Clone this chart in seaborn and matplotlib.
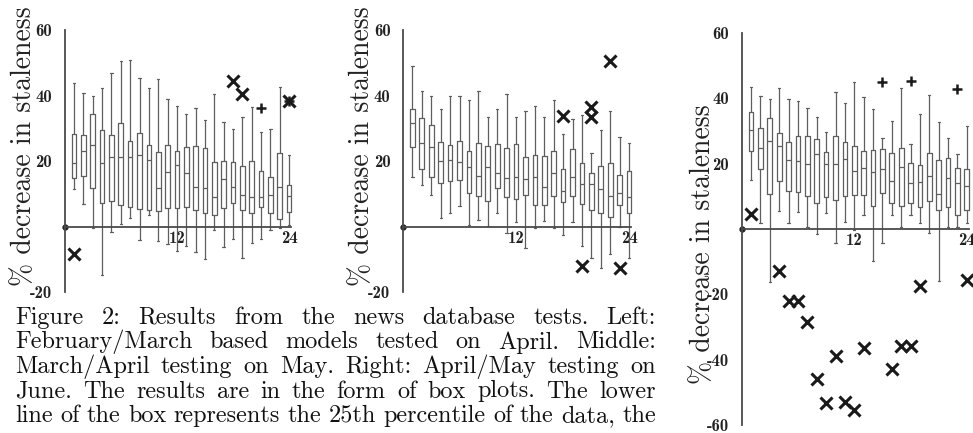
import matplotlib
matplotlib.use('Agg')
import matplotlib.pyplot as plt
import seaborn as sns
import numpy as np
import pandas as pd

sns.set_style('white')
plt.rcParams['font.family'] = ['cmr10', 'DejaVu Serif']
plt.rcParams['axes.unicode_minus'] = False

W, H = 973, 433
positions = list(range(1, 25))

# Left: February/March models tested on April
left_hi = [43.7, 40.9, 39.9, 42.4, 47.0, 50.6, 50.7, 45.3, 42.2, 45.0, 39.1, 36.8,
           34.4, 36.3, 32.6, 40.5, 31.8, 29.8, 33.6, 36.5, 28.8, 29.9, 42.5, 21.9]
left_q3 = [28.3, 28.1, 34.5, 29.5, 28.1, 31.7, 26.0, 28.6, 25.0, 22.7, 25.0, 23.2,
           24.2, 24.5, 24.0, 19.8, 20.1, 19.8, 18.6, 20.0, 17.1, 15.3, 22.4, 12.8]
left_med = [19.3, 23.1, 25.0, 19.5, 21.3, 21.3, 21.3, 22.0, 20.3, 11.7, 16.8, 18.8,
            16.5, 12.2, 11.9, 9.1, 14.6, 12.1, 9.7, 9.1, 9.1, 9.6, 12.1, 9.5]
left_q1 = [14.9, 15.5, 11.8, 7.3, 7.7, 6.7, 6.0, 5.5, 5.2, 4.9, 5.8, 5.8,
           6.0, 5.2, 4.3, 3.6, 5.8, 7.2, 5.1, 4.3, 5.9, 4.3, 2.3, 4.5]
left_lo = [11.4, 6.8, -0.5, -14.8, -1.6, 0.8, 2.8, -4.1, 3.5, -4.3, -5.3, -7.4,
           -5.9, -7.6, -9.9, -1.0, -6.3, -3.8, -9.4, -5.1, -3.8, -1.0, -0.5, 0.5]
left_far_x = [1, 18, 19, 24]
left_far_y = [-8.4, 44.5, 40.5, 38.4]
left_near_x = [21, 24]
left_near_y = [36.3, 38.4]

# Middle: March/April testing on May
mid_hi = [49.0, 41.4, 39.9, 35.9, 39.9, 39.9, 38.5, 41.5, 33.6, 35.9, 40.6, 33.4,
          35.4, 36.8, 33.6, 38.7, 28.2, 33.0, 34.2, 22.6, 29.5, 35.4, 27.3, 25.6]
mid_q3 = [36.0, 33.3, 30.9, 25.8, 25.0, 26.2, 23.1, 25.5, 24.6, 25.3, 24.1, 25.1,
          21.2, 22.0, 21.5, 23.0, 17.6, 23.7, 19.3, 16.3, 18.6, 19.5, 15.9, 17.0]
mid_med = [31.5, 25.4, 24.2, 20.0, 20.5, 19.8, 18.3, 15.6, 18.3, 16.4, 15.0, 15.3,
           14.5, 15.3, 12.2, 16.3, 11.0, 15.1, 13.0, 13.0, 11.4, 9.5, 10.2, 9.2]
mid_q1 = [24.4, 17.5, 15.3, 13.2, 13.9, 14.4, 10.3, 9.3, 7.8, 11.7, 9.1, 8.6,
          9.7, 6.5, 6.6, 9.5, 7.4, 9.5, 7.0, 5.1, 4.1, 3.1, 6.5, 4.3]
mid_lo = [15.1, 12.6, 9.7, 2.6, 4.3, 6.3, 0.5, 2.2, 0.2, 4.1, -2.0, 1.5,
          -6.4, -0.5, 1.7, -0.5, -2.5, 1.5, -5.9, -9.5, -12.7, -8.3, 0.0, -9.4]
mid_far_x = [17, 20, 20, 22, 19, 23]
mid_far_y = [33.9, 36.4, 33.6, 50.4, -12.0, -12.7]
mid_near_x = []
mid_near_y = []

# Right: April/May testing on June
right_hi = [43.3, 40.8, 39.6, 43.1, 39.6, 39.2, 36.9, 34.3, 29.8, 41.9, 38.6, 45.0,
            40.2, 36.6, 27.7, 33.1, 43.2, 25.9, 35.3, 40.9, 32.6, 27.9, 22.9, 31.5]
right_q3 = [35.7, 30.9, 33.9, 29.2, 26.6, 28.4, 28.4, 27.4, 23.5, 28.4, 26.5, 25.5,
            23.7, 24.1, 24.6, 23.3, 24.9, 20.3, 19.7, 23.3, 21.1, 21.8, 18.7, 18.2]
right_med = [30.4, 24.7, 26.9, 25.4, 21.1, 20.7, 19.9, 23.0, 19.9, 19.9, 21.3, 17.8,
             18.5, 17.5, 18.2, 14.8, 19.0, 14.0, 14.5, 16.3, 10.7, 15.6, 14.2, 13.1]
right_q1 = [23.7, 18.3, 10.7, 14.8, 11.7, 11.3, 10.2, 8.0, 9.9, 8.8, 10.2, 10.4,
            10.5, 7.0, 10.9, 7.8, 7.0, 7.8, 6.6, 8.6, 5.8, 6.6, 4.3, 5.8]
right_lo = [15.0, 1.9, -16.1, 5.5, 1.9, 5.1, 0.7, -1.5, 5.0, -4.3, 2.2, -0.3,
            4.3, -9.7, -4.3, 4.3, 0.5, 4.3, 1.7, -1.2, -16.0, 0.5, 0.5, 1.7]
right_far_x = [1, 4, 5, 6, 7, 8, 9, 10, 11, 12, 13, 16, 17, 18, 19, 24]
right_far_y = [4.6, -12.7, -21.9, -21.9, -28.3, -46.0, -53.1, -38.8, -52.8, -55.4,
               -36.3, -42.9, -35.8, -35.8, -17.4, -15.6]
right_near_x = [15, 18, 23]
right_near_y = [45.0, 45.3, 42.8]

caption = [
    "Figure 2:  Results from the news database tests.  Left:",
    "February/March based models tested on April.  Middle:",
    "March/April testing on May.  Right: April/May testing on",
    "June.  The results are in the form of box plots.  The lower",
    "line of the box represents the 25th percentile of the data, the",
]

fig = plt.figure(figsize=(W / 100, H / 100), dpi=100)
fig.patch.set_facecolor('white')

LINE = '#5e5e5e'


def panel(x0, unit, ytop, ybot, ylim, yticks, stats, far, near):
    ax = fig.add_axes([x0 / W, (H - ybot) / H, 24.6 * unit / W, (ybot - ytop) / H])
    lo, q1, med, q3, hi = stats
    df = pd.DataFrame({
        'pos': np.repeat(positions, 5),
        'val': np.column_stack([lo, q1, med, q3, hi]).ravel(),
    })
    sns.boxplot(data=df, x='pos', y='val', orient='x', native_scale=True,
                whis=(0, 100), width=0.5, fill=False, color=LINE, linecolor=LINE,
                linewidth=0.9, fliersize=0, ax=ax)
    ax.plot(far[0], far[1], 'x', ms=8, mew=2.2, color='#1a1a1a', clip_on=False)
    if near[0]:
        ax.plot(near[0], near[1], '+', ms=7, mew=1.8, color='#1a1a1a', clip_on=False)
    ax.plot([0], [0], 'o', ms=3.5, color='#222222', clip_on=False)

    ax.set_xlim(0, 24.6)
    ax.set_ylim(*ylim)
    ax.set_xlabel('')
    ax.set_ylabel('')
    for s in ['top', 'right']:
        ax.spines[s].set_visible(False)
    ax.spines['bottom'].set_position(('data', 0))
    ax.spines['bottom'].set_bounds(0, 24.2)
    ax.spines['left'].set_bounds(*ylim)
    for s in ['bottom', 'left']:
        ax.spines[s].set_color('#4a4a4a')
        ax.spines[s].set_linewidth(1.3)
    ax.set_xticks([12, 24])
    ax.set_xticklabels(['12', '24'])
    ax.set_yticks(yticks)
    ax.set_yticklabels([str(t) for t in yticks])
    ax.tick_params(axis='x', length=0, pad=3, labelsize=12, colors='#222222')
    ax.tick_params(axis='y', direction='in', length=2.5, width=1, pad=9,
                   labelsize=12, colors='#222222')
    for t in ax.get_yticklabels() + ax.get_xticklabels():
        t.set_family(['cmb10', 'DejaVu Serif'])
    ax.patch.set_alpha(0)
    return ax


panel(64.7, 9.35, 30, 292.3, (-20, 60), [60, 40, 20, -20],
      (left_lo, left_q1, left_med, left_q3, left_hi),
      (left_far_x, left_far_y), (left_near_x, left_near_y))
panel(403, 9.42, 30, 292.3, (-20, 60), [60, 40, 20, -20],
      (mid_lo, mid_q1, mid_med, mid_q3, mid_hi),
      (mid_far_x, mid_far_y), (mid_near_x, mid_near_y))
panel(741.7, 9.38, 32.7, 425.3, (-60, 60), [60, 40, 20, -20, -40, -60],
      (right_lo, right_q1, right_med, right_q3, right_hi),
      (right_far_x, right_far_y), (right_near_x, right_near_y))

# y labels
for xc, yc in [(24, 146), (362, 146), (703, 244)]:
    fig.text(xc / W, 1 - yc / H, '% decrease in staleness', rotation=90,
             ha='center', va='center', fontsize=20, color='#222222')

# justified caption
renderer = fig.canvas.get_renderer()
cap_left, cap_right = 15, 656
CAP_FS = 17.5
for i, line in enumerate(caption):
    words = line.split()
    widths = []
    for w in words:
        t = fig.text(0, 0, w, fontsize=CAP_FS)
        widths.append(t.get_window_extent(renderer).width)
        t.remove()
    gap = (cap_right - cap_left - sum(widths)) / (len(words) - 1)
    x = cap_left
    base = 324 + i * 24.5
    for w, wd in zip(words, widths):
        fig.text(x / W, 1 - base / H, w, fontsize=CAP_FS, va='baseline',
                 ha='left', color='#111111')
        x += wd + gap

fig.savefig('out.png', dpi=100)
